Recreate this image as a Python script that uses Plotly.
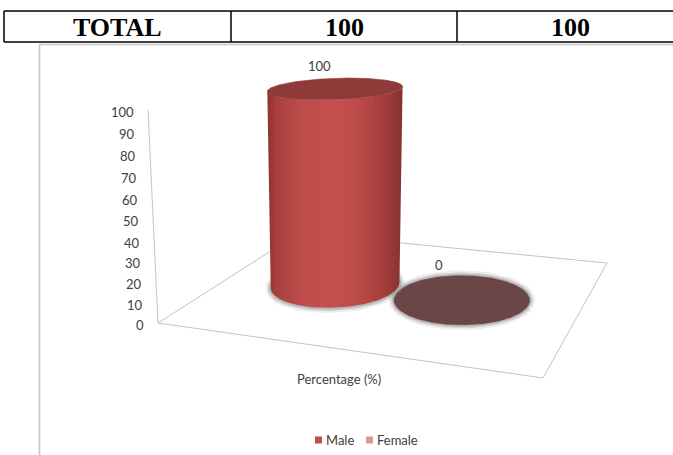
import numpy as np
import plotly.graph_objects as go

# ---------------- data ----------------
categories = ["Male", "Female"]
percentages = [100, 0]
axis_ticks = [0, 10, 20, 30, 40, 50, 60, 70, 80, 90, 100]
category_label = "Percentage (%)"
table_cells = ["TOTAL", "100", "100"]

# ---------------- styles ----------------
legend_colors = ["#c0504d", "#d99694"]
top_colors = ["#8e3a38", "#6a4646"]
body_scale = [[0.0, "#8a3331"], [0.06, "#a63f3d"], [0.25, "#bd4b49"],
              [0.45, "#c6504e"], [0.62, "#c04d4b"], [0.85, "#a63f3d"],
              [1.0, "#853130"]]
LINE_GRAY = "#c4c4c4"
TEXT_GRAY = "#404040"
CHART_FONT = "Lato"
CHART_SIZE = 13
TABLE_FONT = "Liberation Serif"

W, H = 673, 455

# ---------------- 3-D projection of the plot area ----------------
# floor corners on screen: front-left, front-right, back-right, back-left
FLOOR_FL, FLOOR_FR, FLOOR_BR, FLOOR_BL = (158, 323), (543, 378), (607, 263), (299, 233)
AXIS_TOP = (148, 110)        # screen point of the axis maximum above front-left corner
VANISH_X = 338               # vertical edges converge (far below) at this x


def floor_homography(p0, p1, p2, p3):
    """Unit square (0,0),(1,0),(1,1),(0,1) -> quad p0,p1,p2,p3."""
    x0, y0 = p0
    x1, y1 = p1
    x2, y2 = p2
    x3, y3 = p3
    dx1, dy1 = x1 - x2, y1 - y2
    dx2, dy2 = x3 - x2, y3 - y2
    sx = x0 - x1 + x2 - x3
    sy = y0 - y1 + y2 - y3
    den = dx1 * dy2 - dx2 * dy1
    g = (sx * dy2 - dx2 * sy) / den
    h = (dx1 * sy - sx * dy1) / den
    return np.array([[x1 - x0 + g * x1, x3 - x0 + h * x3, x0],
                     [y1 - y0 + g * y1, y3 - y0 + h * y3, y0],
                     [g, h, 1.0]])


Hm = floor_homography(FLOOR_FL, FLOOR_FR, FLOOR_BR, FLOOR_BL)
zmax = axis_ticks[-1]
lam = (VANISH_X - FLOOR_FL[0]) / (VANISH_X - AXIS_TOP[0])
p_up = (lam * np.array([AXIS_TOP[0], AXIS_TOP[1], 1.0]) - Hm[:, 2]) / zmax
P = np.column_stack([Hm[:, 0], Hm[:, 1], p_up, Hm[:, 2]])


def project(u, v, z):
    u, v, z = np.broadcast_arrays(np.asarray(u, float), np.asarray(v, float),
                                  np.asarray(z, float))
    pts = np.stack([u, v, z, np.ones_like(u)])
    s = np.tensordot(P, pts, axes=1)
    return s[0] / s[2], s[1] / s[2]


fig = go.Figure()


def add_line(xs, ys, color=LINE_GRAY, width=1.0):
    fig.add_trace(go.Scatter(x=xs, y=ys, mode="lines", hoverinfo="skip",
                             line=dict(color=color, width=width), showlegend=False))


def label(x, y, text, anchor="center", size=CHART_SIZE):
    return dict(x=x, y=y, text=text, xanchor=anchor, yanchor="middle", showarrow=False,
                font=dict(family=CHART_FONT, size=size, color=TEXT_GRAY))


# floor outline and value axis
corners_u = [0, 1, 1, 0, 0]
corners_v = [0, 0, 1, 1, 0]
fx, fy = project(corners_u, corners_v, 0)
add_line(list(fx), list(fy))
ax_x, ax_y = project([0, 0], [0, 0], [0, zmax])
add_line(list(ax_x), list(ax_y))

annotations = []
for t in axis_ticks:
    tx, ty = project(0, 0, t)
    annotations.append(label(float(tx) - 12, float(ty) + 2, str(t), anchor="right"))

cx, cy = project(0.5, 0, 0)
annotations.append(label(float(cx) + 3, float(cy) + 31, category_label))

# ---------------- cylinders ----------------
n = len(categories)
spacing = 0.37
ru, rv = 0.18, 0.224
vc = 0.5
theta = np.linspace(0, 2 * np.pi, 361)[:-1]


def front_arc(xs, ys):
    """Indices of the near half of a projected ellipse, left to right."""
    m = len(xs)
    iL, iR = int(np.argmin(xs)), int(np.argmax(xs))
    a = [(iL + k) % m for k in range((iR - iL) % m + 1)]
    b = [(iR + k) % m for k in range((iL - iR) % m + 1)][::-1]
    return a if np.mean(ys[a]) > np.mean(ys[b]) else b


# draw far-right series first so the nearer cylinder overlaps it
order = sorted(range(n), key=lambda i: -i)
for i in order:
    val = percentages[i]
    uc = 0.5 + (i - (n - 1) / 2) * spacing
    bu = uc + ru * np.cos(theta)
    bv = vc + rv * np.sin(theta)
    bx, by = project(bu, bv, 0)
    tx, ty = project(bu, bv, val)

    # soft ground shadow round the base
    for wdt, col in [(11, "rgba(160,160,160,0.18)"), (7, "rgba(150,150,150,0.28)"),
                     (4, "rgba(135,135,135,0.35)")]:
        add_line(list(bx) + [bx[0]], list(by) + [by[0]], color=col, width=wdt)

    if val > 0:
        fb = front_arc(bx, by)
        ft = front_arc(tx, ty)
        sx = list(bx[fb]) + list(tx[ft][::-1])
        sy = list(by[fb]) + list(ty[ft][::-1])
        fig.add_trace(go.Scatter(
            x=sx + [sx[0]], y=sy + [sy[0]], mode="lines", fill="toself",
            line=dict(width=0, color="rgba(0,0,0,0)"), hoverinfo="skip",
            fillgradient=dict(type="horizontal", colorscale=body_scale,
                              start=float(min(sx)), stop=float(max(sx))),
            showlegend=False))

    fig.add_trace(go.Scatter(
        x=list(tx) + [tx[0]], y=list(ty) + [ty[0]], mode="lines", fill="toself",
        fillcolor=top_colors[i], line=dict(width=0.6, color=top_colors[i]),
        hoverinfo="skip", showlegend=False))

    # value label above the back of the top face
    lx, ly = project(uc, vc + rv, val)
    annotations.append(label(float(lx) - 42, float(ly) - 12, str(val)))

# ---------------- legend ----------------
legend_x = [318.5, 369.5]
legend_y = 440
for i, name in enumerate(categories):
    fig.add_trace(go.Scatter(x=[legend_x[i]], y=[legend_y], mode="markers",
                             marker=dict(symbol="square", size=7, color=legend_colors[i],
                                         line=dict(width=0)),
                             hoverinfo="skip", showlegend=False))
    annotations.append(label(legend_x[i] + 5, legend_y, name, anchor="left"))

# ---------------- table row and chart frame ----------------
col_edges = [4, 231, 457, 684]
row_top, row_bot = 11, 42
shapes = [
    dict(type="line", x0=col_edges[0], x1=W + 2, y0=row_top, y1=row_top,
         line=dict(color="black", width=1.5)),
    dict(type="line", x0=col_edges[0], x1=W + 2, y0=row_bot, y1=row_bot,
         line=dict(color="black", width=1.5)),
]
for xe in col_edges:
    shapes.append(dict(type="line", x0=xe, x1=xe, y0=row_top, y1=row_bot,
                       line=dict(color="black", width=1.5)))
for k, txt in enumerate(table_cells):
    annotations.append(dict(x=(col_edges[k] + col_edges[k + 1]) / 2, y=(row_top + row_bot) / 2 + 1,
                            text="<b>%s</b>" % txt, xanchor="center", yanchor="middle",
                            showarrow=False,
                            font=dict(family=TABLE_FONT, size=26, color="black")))

frame_left, frame_top = 39.5, 44.5
shapes.append(dict(type="line", x0=frame_left, x1=frame_left, y0=frame_top, y1=H + 2,
                   line=dict(color="#c6c6c6", width=1.6)))
shapes.append(dict(type="line", x0=frame_left, x1=W + 2, y0=frame_top, y1=frame_top,
                   line=dict(color="#c6c6c6", width=1.6)))

fig.update_layout(
    width=W, height=H, margin=dict(l=0, r=0, t=0, b=0),
    paper_bgcolor="white", plot_bgcolor="white", showlegend=False,
    xaxis=dict(range=[0, W], visible=False, fixedrange=True),
    yaxis=dict(range=[H, 0], visible=False, fixedrange=True),
    shapes=shapes, annotations=annotations,
)

fig.write_html("out.html")
